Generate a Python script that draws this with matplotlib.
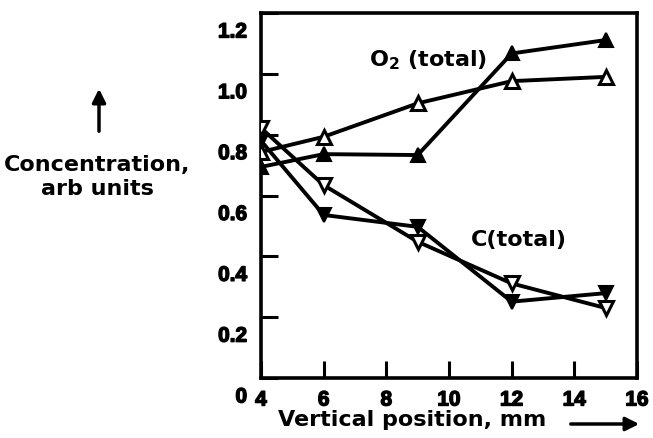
import matplotlib
matplotlib.use("Agg")
import matplotlib.pyplot as plt
import matplotlib.transforms as mtransforms
import matplotlib.patheffects as pe

plt.rcParams['font.family'] = ['Liberation Sans', 'DejaVu Sans']
plt.rcParams['font.weight'] = 'bold'
plt.rcParams['mathtext.fontset'] = 'custom'
plt.rcParams['mathtext.rm'] = 'DejaVu Sans:bold'
plt.rcParams['mathtext.bf'] = 'DejaVu Sans:bold'
plt.rcParams['mathtext.default'] = 'bf'

# vertical position, mm
position = [4, 6, 9, 12, 15]
# concentration, arb units
o2_filled = [0.694, 0.736, 0.733, 1.067, 1.111]
o2_open = [0.743, 0.793, 0.903, 0.976, 0.990]
c_filled = [0.780, 0.536, 0.497, 0.251, 0.279]
c_open = [0.822, 0.634, 0.448, 0.311, 0.230]

xticks = [4, 6, 8, 10, 12, 14, 16]
yticks = [0, 0.2, 0.4, 0.6, 0.8, 1.0, 1.2]
ytick_labels = ['0', '0.2', '0.4', '0.6', '0.8', '1.0', '1.2']

fig = plt.figure(figsize=(6.53, 4.38), dpi=100)
ax = fig.add_axes([261 / 653, 60 / 438, 376 / 653, 365 / 438])

lw = 2.8
ms = 10
ax.plot(position, o2_filled, color='black', lw=lw, marker='^', ms=ms,
        mfc='black', mec='black', mew=1.5, zorder=3)
ax.plot(position, o2_open, color='black', lw=lw, marker='^', ms=ms,
        mfc='white', mec='black', mew=2.2, zorder=4)
ax.plot(position, c_filled, color='black', lw=lw, marker='v', ms=ms,
        mfc='black', mec='black', mew=1.5, zorder=3)
ax.plot(position, c_open, color='black', lw=lw, marker='v', ms=ms,
        mfc='white', mec='black', mew=2.2, zorder=4)

ax.set_xlim(4, 16)
ax.set_ylim(0, 1.2)
ax.set_xticks(xticks)
ax.set_xticklabels([str(t) for t in xticks])
ax.set_yticks(yticks)
ax.set_yticklabels(ytick_labels)
ax.tick_params(direction='in', length=12, width=2.2, labelsize=15, pad=9)
ax.tick_params(axis='y', pad=10)
for s in ax.spines.values():
    s.set_linewidth(2.6)

# tick labels sit a bit below their ticks in the original
offset = mtransforms.ScaledTranslation(0, -0.17, fig.dpi_scale_trans)
heavy = [pe.withStroke(linewidth=1.0, foreground='black')]
for lab in ax.get_yticklabels():
    lab.set_transform(lab.get_transform() + offset)
    lab.set_path_effects(heavy)
for lab in ax.get_xticklabels():
    lab.set_path_effects(heavy)

big = dict(family='DejaVu Sans', fontsize=16, fontweight='bold')
ax.text(9.33, 1.045, 'O$_2$ (total)', ha='center', va='center', **big)
ax.text(12.23, 0.454, 'C(total)', ha='center', va='center', **big)

# axis titles with arrows
fig.text(97 / 653, 1 - 165 / 438, 'Concentration,', ha='center',
         va='center', **big)
fig.text(97 / 653, 1 - 189 / 438, 'arb units', ha='center',
         va='center', **big)
fig.text(412 / 653, 1 - 420 / 438, 'Vertical position, mm', ha='center',
         va='center', **big)

fig.patches.append(matplotlib.patches.FancyArrowPatch(
    (99 / 653, 1 - 134 / 438), (99 / 653, 1 - 86 / 438),
    transform=fig.transFigure, arrowstyle='-|>', mutation_scale=20,
    lw=2.5, color='black'))
fig.patches.append(matplotlib.patches.FancyArrowPatch(
    (568 / 653, 1 - 424 / 438), (642 / 653, 1 - 424 / 438),
    transform=fig.transFigure, arrowstyle='-|>', mutation_scale=20,
    lw=2.5, color='black'))

fig.savefig('out.png', dpi=100)
